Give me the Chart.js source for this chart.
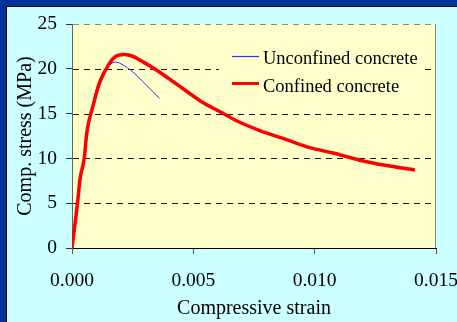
<!DOCTYPE html>
<html>
<head>
<meta charset="utf-8">
<script src="https://cdn.jsdelivr.net/npm/chart.js@4.4.1/dist/chart.umd.min.js"></script>
<style>
  html, body { margin: 0; padding: 0; background: #CCFFFF; }
  canvas { display: block; }
</style>
</head>
<body>
<canvas id="c" width="457" height="322"></canvas>
<script>
// ---- data ----
const seriesNames = ['Unconfined concrete', 'Confined concrete'];
const strainUnconfined = [0, 0.00023, 0.00051, 0.00071, 0.00092, 0.00126, 0.00154, 0.00179, 0.00202, 0.00229, 0.00257, 0.00291, 0.00332, 0.0036];
const stressUnconfined = [0, 5.1, 10.1, 14.0, 16.9, 19.5, 20.4, 20.75, 20.55, 20.1, 19.5, 18.6, 17.5, 16.7];
const strainConfined = [0, 0.00023, 0.00033, 0.00051, 0.0006, 0.00071, 0.00082, 0.00113, 0.00154, 0.00181, 0.00216, 0.0025, 0.00291, 0.00346, 0.00415, 0.00472, 0.00541, 0.0061, 0.00678, 0.00774, 0.00884, 0.0098, 0.01076, 0.01186, 0.01296, 0.01413];
const stressConfined = [0, 5.1, 7.7, 10.1, 12.7, 14.3, 15.4, 18.4, 20.6, 21.4, 21.6, 21.4, 20.8, 19.9, 18.6, 17.5, 16.2, 15.2, 14.2, 13.1, 12.1, 11.2, 10.6, 9.8, 9.2, 8.7];
const xTicks = [0, 0.005, 0.010, 0.015];
const yTicks = [0, 5, 10, 15, 20, 25];
const xTitle = 'Compressive strain';
const yTitle = 'Comp. stress (MPa)';

const toPoints = (xs, ys) => xs.map((x, i) => ({ x: x, y: ys[i] }));
const FONT = 'Liberation Serif, Times New Roman, serif';

const backgroundPlugin = {
  id: 'bg',
  beforeDraw(chart) {
    const ctx = chart.ctx, a = chart.chartArea;
    ctx.save();
    ctx.fillStyle = '#CCFFFF';
    ctx.fillRect(0, 0, chart.width, chart.height);
    ctx.fillStyle = '#003399';
    ctx.fillRect(0, 0, chart.width, 6);
    ctx.fillRect(0, 0, 6, chart.height);
    ctx.fillStyle = '#000814';
    ctx.fillRect(6, 6, chart.width - 6, 1);
    ctx.fillRect(6, 6, 1, chart.height - 6);
    ctx.fillStyle = '#FFFFCC';
    ctx.fillRect(a.left, a.top, a.right - a.left, a.bottom - a.top);
    ctx.restore();
  },
  beforeDatasetsDraw(chart) {
    // dashed horizontal grid lines at the y scale's ticks
    const ctx = chart.ctx, a = chart.chartArea, ys = chart.scales.y;
    ctx.save();
    ctx.lineWidth = 1;
    ctx.setLineDash([6, 5]);
    ys.ticks.forEach(t => {
      if (t.value === 0) return;
      const py = Math.round(ys.getPixelForValue(t.value)) + 0.5;
      ctx.strokeStyle = t.value === 25 ? '#8a8a8a' : '#1a1a1a';
      ctx.beginPath();
      ctx.moveTo(a.left + 1, py);
      ctx.lineTo(a.right, py);
      ctx.stroke();
    });
    ctx.restore();
  },
  afterDatasetsDraw(chart) {
    const ctx = chart.ctx, a = chart.chartArea;
    ctx.save();
    // right border of plot area
    ctx.strokeStyle = '#808080';
    ctx.lineWidth = 1;
    ctx.beginPath();
    ctx.moveTo(Math.round(a.right) - 0.5, a.top);
    ctx.lineTo(Math.round(a.right) - 0.5, a.bottom);
    ctx.stroke();
    // legend box (opaque, hides grid line)
    const lx = a.left + 147, ly = a.top + 16;
    ctx.fillStyle = '#FFFFCC';
    ctx.fillRect(lx, ly, 206, 60);
    const ds = chart.data.datasets;
    [ds[0], ds[1]].forEach((d, i) => {
      const y = a.top + 32.5 + i * 27;
      ctx.strokeStyle = d.borderColor;
      ctx.lineWidth = i === 0 ? 1.2 : 3;
      ctx.beginPath();
      ctx.moveTo(a.left + 160, y);
      ctx.lineTo(a.left + 187, y);
      ctx.stroke();
      ctx.fillStyle = '#000';
      ctx.font = '18.5px ' + FONT;
      ctx.textBaseline = 'alphabetic';
      ctx.textAlign = 'left';
      ctx.fillText(d.label, a.left + 191, a.top + 39.5 + i * 28);
    });
    ctx.restore();
  }
};

new Chart(document.getElementById('c'), {
  type: 'line',
  data: {
    datasets: [
      {
        label: seriesNames[0],
        data: toPoints(strainUnconfined, stressUnconfined),
        borderColor: '#2E2EFF',
        borderWidth: 1,
        pointRadius: 0,
        cubicInterpolationMode: 'monotone',
        order: 2
      },
      {
        label: seriesNames[1],
        data: toPoints(strainConfined, stressConfined),
        borderColor: '#FF0000',
        borderWidth: 3.5,
        pointRadius: 0,
        cubicInterpolationMode: 'monotone',
        order: 1
      }
    ]
  },
  options: {
    responsive: false,
    animation: false,
    devicePixelRatio: 1,
    layout: { padding: { left: 0, right: 21, top: 24, bottom: 0 } },
    plugins: { legend: { display: false }, tooltip: { enabled: false } },
    scales: {
      x: {
        type: 'linear',
        min: 0, max: 0.015,
        afterBuildTicks: s => { s.ticks = xTicks.map(v => ({ value: v })); },
        ticks: {
          callback: v => Number(v).toFixed(3),
          font: { family: FONT, size: 19.5 },
          color: '#000',
          padding: 15,
          maxRotation: 0,
          autoSkip: false
        },
        grid: { drawOnChartArea: false, drawTicks: true, tickLength: 6, color: '#555', tickColor: '#555' },
        border: { display: true, color: '#000', width: 1 },
        title: { display: true, text: xTitle, color: '#000', font: { family: FONT, size: 20 }, padding: { top: 0, bottom: 1 } },
        afterFit: s => { s.height = 74; s.paddingLeft = 0; s.paddingRight = 0; }
      },
      y: {
        type: 'linear',
        min: 0, max: 25,
        afterBuildTicks: s => { s.ticks = yTicks.map(v => ({ value: v })); },
        ticks: {
          font: { family: FONT, size: 19.5 },
          color: '#000',
          padding: 9,
          autoSkip: false
        },
        grid: {
          drawOnChartArea: false,
          drawTicks: true,
          tickLength: 6,
          color: '#333',
          tickColor: '#333'
        },
        border: { display: true, color: '#666', width: 1 },
        title: { display: true, text: yTitle, color: '#000', font: { family: FONT, size: 20 }, padding: { top: 14, bottom: 0 } },
        afterFit: s => { s.width = 72; s.paddingTop = 0; s.paddingBottom = 0; }
      }
    }
  },
  plugins: [backgroundPlugin]
});
</script>
</body>
</html>
